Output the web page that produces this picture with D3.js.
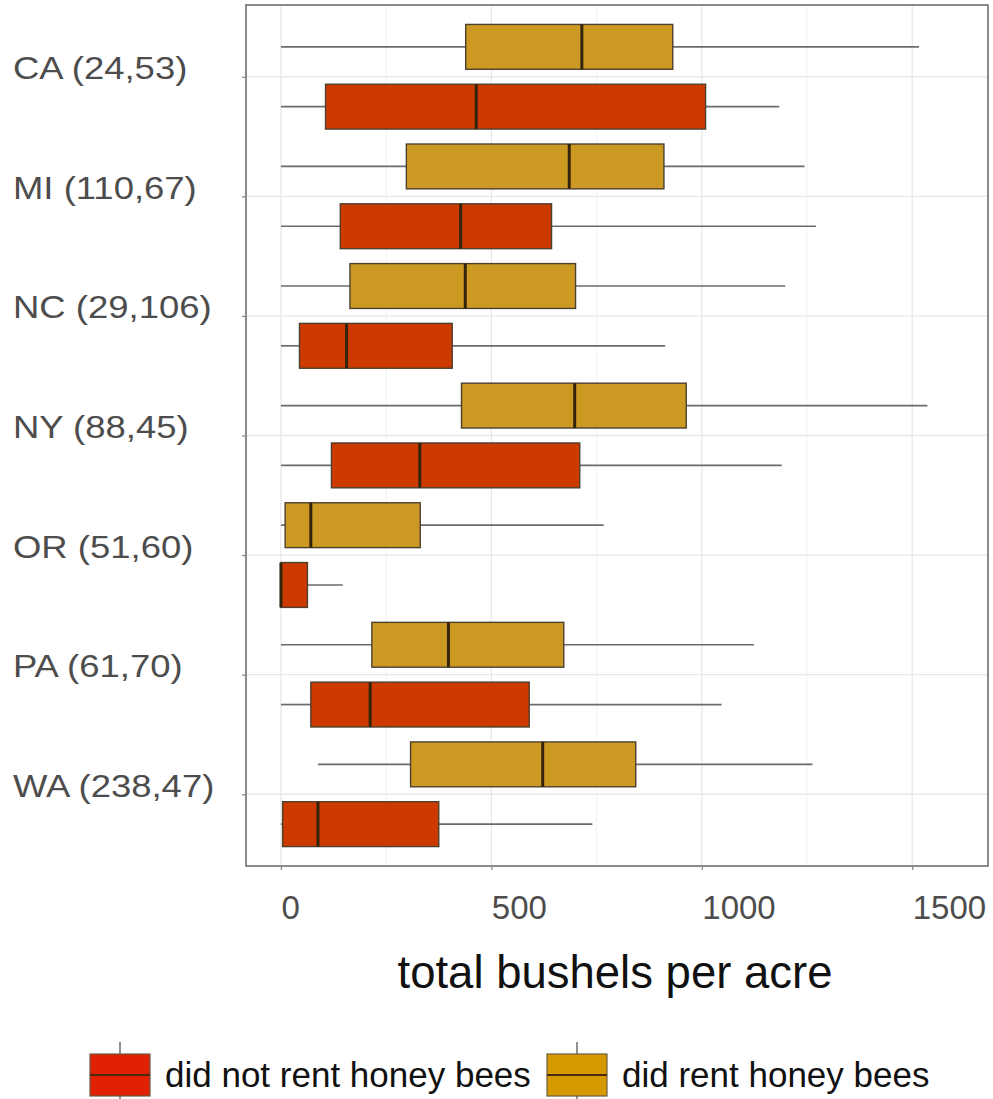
<!DOCTYPE html>
<html>
<head>
<meta charset="utf-8">
<script src="https://cdn.jsdelivr.net/npm/d3@7"></script>
<style>
  html, body { margin: 0; padding: 0; background: #fff; }
  svg { display: block; font-family: "Liberation Sans", Arial, sans-serif; }
</style>
</head>
<body>
<svg id="chart" width="993" height="1099"></svg>
<script>
// State labels: state (farms that rented, farms that did not rent)
const states = ["CA (24,53)", "MI (110,67)", "NC (29,106)", "NY (88,45)", "OR (51,60)", "PA (61,70)", "WA (238,47)"];

// Five-number summaries [min, Q1, median, Q3, max] of total bushels per acre
const rented = [
  [0, 439, 715, 931, 1516],
  [0, 298, 685, 910, 1244],
  [0, 164, 438, 700, 1198],
  [0, 429, 698, 963, 1536],
  [0, 10, 71, 331, 767],
  [0, 216, 398, 672, 1124],
  [88, 308, 622, 843, 1263]
];
const notRented = [
  [0, 106, 464, 1009, 1184],
  [0, 141, 427, 643, 1271],
  [0, 44, 156, 407, 913],
  [0, 120, 330, 710, 1190],
  [0, 0, 0, 63, 147],
  [0, 71, 212, 590, 1047],
  [0, 4, 88, 375, 740]
];

const xTicks = [0, 500, 1000, 1500];
const xMinor = [250, 750, 1250];

const groups = [
  { key: "rent", label: "did rent honey bees", data: rented, fill: "#CC9A22", legendFill: "#D49A00", offset: -0.25 },
  { key: "not", label: "did not rent honey bees", data: notRented, fill: "#CC3A00", legendFill: "#E02000", offset: 0.25 }
];

const svg = d3.select("#chart");
const panel = { left: 246, right: 988, top: 5, bottom: 866 };

const x = d3.scaleLinear().domain([-83, 1680]).range([panel.left, panel.right]);
const y = d3.scalePoint().domain(states).range([panel.top, panel.bottom]).padding(0.6);
const step = y.step();
const boxH = step * 0.375;

// grid
const grid = svg.append("g");
grid.selectAll(".vminor").data(xMinor).join("line")
  .attr("x1", d => x(d)).attr("x2", d => x(d))
  .attr("y1", panel.top).attr("y2", panel.bottom)
  .attr("stroke", "#f2f2f2").attr("stroke-width", 1);
grid.selectAll(".vmajor").data(xTicks).join("line")
  .attr("x1", d => x(d)).attr("x2", d => x(d))
  .attr("y1", panel.top).attr("y2", panel.bottom)
  .attr("stroke", "#e8e8e8").attr("stroke-width", 1.3);
grid.selectAll(".hmajor").data(states).join("line")
  .attr("x1", panel.left).attr("x2", panel.right)
  .attr("y1", d => y(d)).attr("y2", d => y(d))
  .attr("stroke", "#e8e8e8").attr("stroke-width", 1.3);

// boxes
groups.forEach(g => {
  const gg = svg.append("g").attr("class", "series-" + g.key);
  const rows = g.data.map((v, i) => ({ state: states[i], v }));
  const cy = d => y(d.state) + g.offset * step;
  // whiskers
  gg.selectAll(".wlo").data(rows.filter(d => d.v[1] > d.v[0])).join("line")
    .attr("x1", d => x(d.v[0])).attr("x2", d => x(d.v[1]))
    .attr("y1", cy).attr("y2", cy)
    .attr("stroke", "#6b6b6b").attr("stroke-width", 1.7);
  gg.selectAll(".whi").data(rows).join("line")
    .attr("x1", d => x(d.v[3])).attr("x2", d => x(d.v[4]))
    .attr("y1", cy).attr("y2", cy)
    .attr("stroke", "#6b6b6b").attr("stroke-width", 1.7);
  // box
  gg.selectAll("rect").data(rows).join("rect")
    .attr("x", d => x(d.v[1])).attr("width", d => x(d.v[3]) - x(d.v[1]))
    .attr("y", d => cy(d) - boxH / 2).attr("height", boxH)
    .attr("fill", g.fill).attr("stroke", "#4d4030").attr("stroke-width", 1.4);
  // median
  gg.selectAll(".med").data(rows).join("line")
    .attr("x1", d => x(d.v[2])).attr("x2", d => x(d.v[2]))
    .attr("y1", d => cy(d) - boxH / 2).attr("y2", d => cy(d) + boxH / 2)
    .attr("stroke", "#33240c").attr("stroke-width", 3);
});

// panel border
svg.append("rect")
  .attr("x", panel.left).attr("y", panel.top)
  .attr("width", panel.right - panel.left).attr("height", panel.bottom - panel.top)
  .attr("fill", "none").attr("stroke", "#6e6e6e").attr("stroke-width", 1.6);

// x axis
const xAxis = d3.axisBottom(x).tickValues(xTicks).tickFormat(d3.format("d")).tickSize(4).tickPadding(26);
const gx = svg.append("g").attr("transform", `translate(0,${panel.bottom})`).call(xAxis);
gx.select(".domain").remove();
gx.selectAll(".tick line").attr("stroke", "#8a8a8a").attr("stroke-width", 1.3);
gx.selectAll(".tick text")
  .attr("text-anchor", "start")
  .attr("fill", "#4d4d4d")
  .style("font-size", "33px")
  .style("font-family", "'Liberation Sans', Arial, sans-serif");

// y axis: labels left-aligned at the figure's left margin
const labelScale = 1.14;
const labelLeft = 13;
const yAxis = d3.axisLeft(y).tickSize(4).tickPadding(0);
const gy = svg.append("g").attr("transform", `translate(${panel.left},0)`).call(yAxis);
gy.select(".domain").remove();
gy.selectAll(".tick line").attr("stroke", "#8a8a8a").attr("stroke-width", 1.3);
gy.selectAll(".tick text")
  .attr("text-anchor", "start")
  .attr("dy", 2)
  .attr("x", 0)
  .attr("transform", `translate(${labelLeft - panel.left},0) scale(${labelScale},1)`)
  .attr("fill", "#4d4d4d")
  .style("font-size", "32px")
  .style("font-family", "'Liberation Sans', Arial, sans-serif");

// axis title
svg.append("text")
  .attr("x", 615)
  .attr("y", 988)
  .attr("text-anchor", "middle")
  .attr("fill", "#111")
  .style("font-size", "45.5px")
  .text("total bushels per acre");

// legend
const legendItems = [groups[1], groups[0]];
const keyX = [90, 547];
const lg = svg.append("g");
legendItems.forEach((g, i) => {
  const kx = keyX[i], kw = 60, ky = 1054, kh = 42;
  lg.append("line").attr("x1", kx + kw / 2).attr("x2", kx + kw / 2)
    .attr("y1", ky - 12).attr("y2", ky + kh + 6)
    .attr("stroke", "#6b6b6b").attr("stroke-width", 1.5);
  lg.append("rect").attr("x", kx).attr("y", ky).attr("width", kw).attr("height", kh)
    .attr("fill", g.legendFill).attr("stroke", "#6d5d45").attr("stroke-width", 1.2);
  lg.append("line").attr("x1", kx).attr("x2", kx + kw)
    .attr("y1", ky + kh / 2).attr("y2", ky + kh / 2)
    .attr("stroke", "#4a2a10").attr("stroke-width", 2.2);
  lg.append("text").attr("x", kx + kw + 15).attr("y", 1087)
    .attr("fill", "#111").style("font-size", "35px")
    .text(g.label);
});
</script>
</body>
</html>
